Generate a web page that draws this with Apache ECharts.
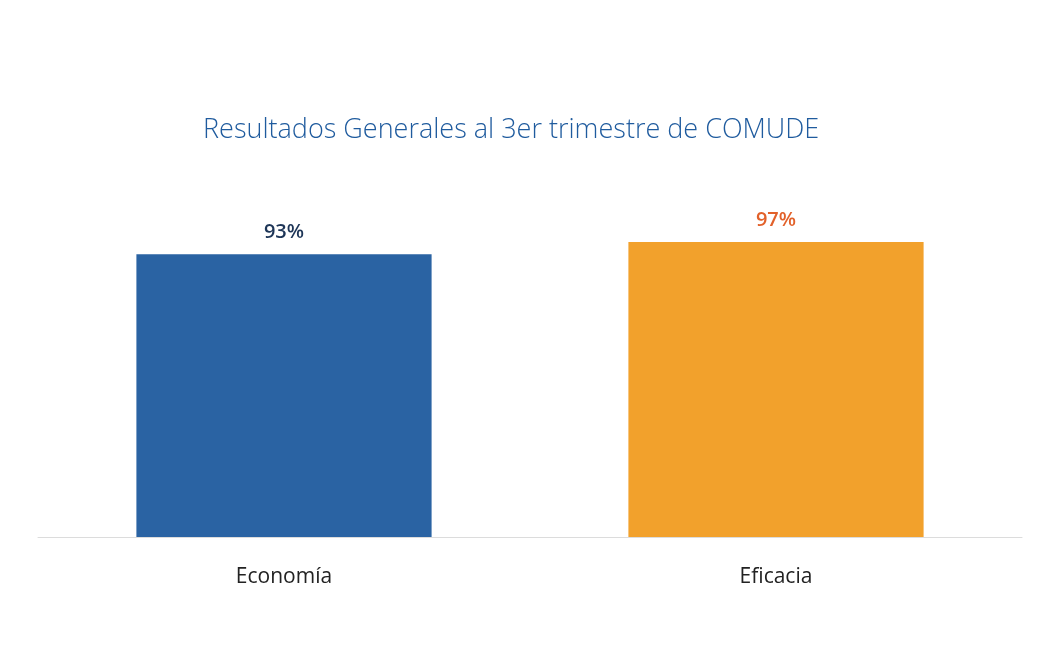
<!DOCTYPE html>
<html><head><meta charset="utf-8">
<script src="https://cdn.jsdelivr.net/npm/echarts@6/dist/echarts.min.js"></script>
<style>html,body{margin:0;padding:0;background:#fff}#c{width:1037px;height:646px}</style>
</head><body><div id="c"></div>
<script>
const categories = ['Economía', 'Eficacia'];
const values = [93, 97];
const barColors = ['#2a63a3', '#f2a12c'];
const labelColors = ['#1d3557', '#e2612a'];
const chart = echarts.init(document.getElementById('c'));
chart.setOption({
  backgroundColor: '#ffffff',
  animation: false,
  title: {
    text: 'Resultados Generales al 3er trimestre de COMUDE',
    left: 198, top: 112,
    textStyle: { fontFamily: 'Open Sans', fontWeight: 300, fontSize: 27, color: '#1f5b9e' }
  },
  grid: { left: 38, right: 15, top: 233, bottom: 109 },
  xAxis: {
    type: 'category', data: categories,
    axisLine: { lineStyle: { color: '#dcdcdc' } },
    axisTick: { show: false },
    axisLabel: { margin: 30, fontSize: 21, color: '#222', fontFamily: 'Open Sans' }
  },
  yAxis: { type: 'value', min: 0, max: 100, show: false, splitLine: { show: false } },
  series: [{
    type: 'bar', barWidth: '60%',
    data: values.map((v, i) => ({
      value: v,
      itemStyle: { color: barColors[i] },
      label: { color: labelColors[i] }
    })),
    label: {
      show: true, position: 'top', distance: 12,
      formatter: '{c}%', fontSize: 20, fontWeight: 600, fontFamily: 'Open Sans'
    }
  }]
});
</script></body></html>
